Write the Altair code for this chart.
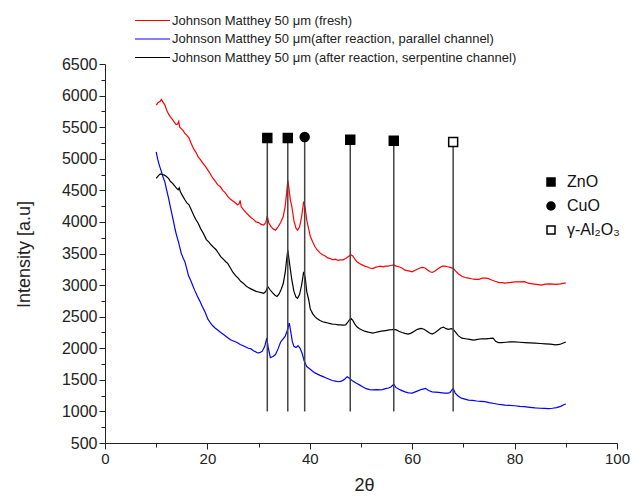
import altair as alt
import pandas as pd

# ---------------- data ----------------
fresh_x = [10.0,10.4,10.8,11.0,11.3,11.7,12.1,12.4,12.8,13.2,13.6,13.9,14.2,14.4,14.6,15.0,15.3,15.6,16.0,16.4,16.8,17.3,17.7,18.2,18.6,19.1,19.6,20.1,20.5,21.0,21.5,22.0,22.5,23.0,23.5,24.0,24.5,25.0,25.5,25.9,26.2,26.4,26.6,27.0,27.5,28.0,28.5,29.0,29.5,30.0,30.5,31.0,31.4,31.7,32.0,32.4,32.8,33.3,33.8,34.3,34.8,35.2,35.5,35.7,35.9,36.2,36.5,36.9,37.3,37.6,38.0,38.4,38.8,39.1,39.4,39.8,40.1,40.6,41.0,41.4,42.0,42.5,43.0,43.5,44.0,44.5,45.0,45.5,46.0,46.5,47.0,47.5,48.0,48.4,48.8,49.2,49.7,50.2,50.7,51.2,51.7,52.3,52.8,53.3,53.8,54.3,54.8,55.3,55.8,56.4,56.9,57.4,58.0,58.5,59.0,59.5,60.0,60.5,61.0,61.5,62.0,62.5,63.0,63.5,63.9,64.4,64.9,65.4,65.9,66.4,66.9,67.4,68.0,68.5,69.0,69.7,70.3,71.0,71.6,72.3,73.0,73.7,74.3,74.8,75.5,76.2,77.0,77.6,78.1,79.0,80.0,81.0,81.9,82.7,83.5,84.3,85.2,86.0,87.0,88.0,89.0,89.7,90.0]
fresh_y = [5850,5890,5910,5940,5900,5850,5760,5710,5660,5620,5570,5540,5550,5590,5500,5470,5440,5400,5370,5330,5250,5160,5110,5030,4990,4930,4880,4820,4770,4700,4650,4590,4560,4500,4460,4400,4360,4330,4300,4270,4290,4340,4240,4200,4150,4110,4070,4040,4000,3990,3960,3950,3990,4090,3980,3930,3890,3870,3920,3990,4080,4250,4480,4660,4550,4350,4240,4020,3900,3870,3920,4080,4320,4220,4030,3880,3770,3680,3610,3560,3510,3480,3460,3430,3420,3400,3410,3390,3400,3400,3420,3450,3480,3460,3410,3370,3340,3320,3300,3290,3270,3260,3280,3290,3300,3290,3300,3300,3310,3320,3300,3290,3270,3240,3230,3220,3210,3230,3250,3270,3280,3270,3240,3210,3200,3220,3250,3280,3300,3300,3290,3280,3265,3220,3180,3140,3120,3110,3100,3090,3090,3110,3110,3105,3080,3060,3040,3040,3030,3040,3050,3050,3055,3030,3020,3010,3000,3015,3020,3010,3020,3030,3030]

serp_x = [10.0,10.4,10.8,11.2,11.6,12.0,12.4,12.8,13.2,13.6,14.0,14.3,14.5,14.7,15.1,15.6,16.0,16.4,16.8,17.3,17.8,18.2,18.7,19.2,19.8,20.3,20.8,21.3,21.7,22.2,22.6,23.1,23.6,24.0,24.5,25.0,25.5,26.0,26.5,27.0,27.5,28.0,28.5,29.0,29.5,30.0,30.5,31.0,31.4,31.8,32.2,32.7,33.2,33.6,34.0,34.4,34.8,35.2,35.5,35.7,35.9,36.2,36.5,36.9,37.3,37.6,38.0,38.4,38.8,39.1,39.4,39.8,40.1,40.6,41.0,41.4,42.0,42.5,43.0,43.5,44.0,44.5,45.0,45.5,46.0,46.5,47.0,47.5,48.0,48.4,48.8,49.2,49.7,50.2,50.7,51.2,51.7,52.3,52.8,53.3,54.0,54.8,55.5,56.0,56.4,56.9,57.4,58.0,58.6,59.2,59.8,60.4,61.0,61.7,62.3,62.9,63.4,63.9,64.5,65.0,65.6,66.1,66.6,67.1,67.6,68.0,68.5,69.0,69.7,70.4,71.2,72.0,72.8,73.6,74.4,75.2,75.8,76.3,76.8,77.5,78.3,79.2,80.0,81.0,82.0,83.0,84.0,85.0,86.0,87.0,88.0,88.8,89.4,90.0]
serp_y = [4690,4730,4760,4750,4740,4720,4690,4640,4610,4570,4530,4510,4540,4480,4420,4350,4300,4270,4200,4110,4030,3980,3890,3820,3720,3680,3630,3590,3560,3500,3450,3410,3370,3340,3270,3200,3150,3110,3060,3030,2990,2960,2940,2920,2900,2890,2880,2870,2900,2975,2930,2880,2840,2820,2860,2930,3020,3200,3420,3555,3430,3250,3080,2900,2810,2790,2850,3000,3210,3120,2900,2760,2620,2540,2500,2470,2440,2420,2410,2400,2390,2380,2380,2370,2370,2365,2370,2420,2475,2440,2380,2340,2310,2290,2270,2260,2250,2240,2250,2260,2270,2280,2290,2295,2300,2290,2270,2250,2235,2225,2240,2270,2300,2315,2300,2270,2240,2225,2250,2280,2320,2335,2310,2300,2310,2300,2250,2200,2160,2150,2140,2130,2140,2150,2150,2155,2160,2110,2090,2090,2095,2100,2100,2095,2090,2085,2080,2075,2070,2065,2055,2060,2080,2100]

par_x = [10.0,10.3,10.6,11.0,11.3,11.7,12.0,12.4,12.7,13.0,13.4,13.7,14.0,14.3,14.6,14.9,15.3,15.6,16.0,16.3,16.7,17.0,17.5,18.0,18.5,19.0,19.5,20.1,20.6,21.0,21.5,22.0,22.6,23.1,23.6,24.1,24.6,25.2,25.8,26.4,27.0,27.5,28.0,28.5,29.0,29.5,29.8,30.2,30.7,31.2,31.6,31.9,32.3,32.8,33.3,33.8,34.3,34.8,35.2,35.6,36.0,36.3,36.6,36.9,37.3,37.7,38.1,38.5,38.9,39.4,39.9,40.5,41.0,41.5,42.0,42.6,43.2,43.8,44.4,45.0,45.6,46.2,46.8,47.3,47.8,48.4,49.1,49.7,50.3,51.0,51.7,52.4,53.0,53.6,54.2,54.8,55.4,55.9,56.4,56.8,57.4,58.0,58.6,59.3,60.0,60.6,61.2,61.9,62.6,63.2,63.9,64.5,65.2,65.8,66.4,67.0,67.4,68.0,68.4,69.0,69.6,70.3,71.0,71.8,72.6,73.4,74.2,75.0,76.0,77.0,78.1,79.0,80.0,81.0,81.9,83.0,84.0,85.0,85.8,86.6,87.4,88.2,89.0,89.7,90.0]
par_y = [5110,4990,4900,4800,4720,4630,4520,4380,4260,4150,4000,3880,3780,3700,3600,3500,3420,3370,3250,3150,3080,3020,2920,2830,2750,2660,2580,2460,2400,2360,2320,2290,2250,2220,2190,2160,2130,2110,2090,2060,2040,2020,2000,1990,1960,1940,1925,1930,1950,2030,2160,2000,1850,1870,1900,1990,2100,2150,2190,2280,2400,2250,2100,2030,2010,2040,2000,1920,1800,1710,1680,1640,1610,1590,1570,1550,1530,1510,1490,1480,1470,1480,1510,1550,1520,1480,1445,1420,1390,1360,1345,1340,1345,1340,1345,1360,1370,1390,1430,1380,1350,1330,1310,1295,1290,1310,1330,1350,1365,1330,1310,1305,1300,1295,1290,1290,1300,1365,1290,1240,1210,1195,1180,1175,1165,1160,1155,1140,1125,1110,1100,1095,1090,1080,1075,1065,1055,1050,1048,1045,1050,1060,1080,1110,1115]

series_names = [
    "Johnson Matthey 50 \u03bcm (fresh)",
    "Johnson Matthey 50 \u03bcm(after reaction, parallel channel)",
    "Johnson Matthey 50 \u03bcm (after reaction, serpentine channel)",
]
series_colors = ["#ff0000", "#0000ff", "#000000"]

peak_pos = [31.7, 35.7, 39.0, 47.9, 56.4, 68.0]
peak_phase = ["ZnO", "ZnO", "CuO", "ZnO", "ZnO", "\u03b3-Al\u2082O\u2083"]
peak_top = [5330, 5330, 5345, 5300, 5285, 5265]
peak_bottom = [1000, 1000, 1000, 1000, 1000, 1000]

phase_names = ["ZnO", "CuO", "\u03b3-Al\u2082O\u2083"]
phase_shapes = ["square", "circle", "square"]
phase_fills = ["black", "black", "white"]
phase_strokes = ["black", "black", "black"]

y_ticks = [500 + 250 * i for i in range(25)]
x_ticks = [10 * i for i in range(11)]

# ---------------- tables ----------------
rows = []
for name, xs, ys in [(series_names[0], fresh_x, fresh_y),
                     (series_names[1], par_x, par_y),
                     (series_names[2], serp_x, serp_y)]:
    for a, b in zip(xs, ys):
        rows.append({"x": a, "y": b, "series": name})
lines_df = pd.DataFrame(rows)

peaks_df = pd.DataFrame({"pos": peak_pos, "phase": peak_phase,
                         "top": peak_top, "bottom": peak_bottom})

FONT = "Liberation Sans"
xscale = alt.Scale(domain=[0, 100], nice=False, zero=False)
yscale = alt.Scale(domain=[500, 6500], nice=False, zero=False)

x_axis = alt.Axis(values=x_ticks, orient="bottom",
                  tickSize={"condition": {"test": "datum.value % 20 === 0", "value": 6}, "value": 4},
                  labelExpr="datum.value % 20 === 0 ? format(datum.value, 'd') : ''",
                  tickWidth=1, tickColor="#222", domainColor="#222", domainWidth=1,
                  labelFont=FONT, labelFontSize=15, labelColor="#222", labelPadding=2,
                  labelFlush=False, labelOverlap=False,
                  grid=False, title="2\u03b8", titleFont=FONT, titleFontSize=18,
                  titleFontWeight="normal", titleColor="#222",
                  titleX=259, titleY=42, titleBaseline="middle")
y_axis = alt.Axis(values=y_ticks, orient="left",
                  tickSize={"condition": {"test": "datum.value % 500 === 0", "value": 6}, "value": 4},
                  labelExpr="datum.value % 500 === 0 ? format(datum.value, 'd') : ''",
                  tickWidth=1, tickColor="#222", domainColor="#222", domainWidth=1,
                  labelFont=FONT, labelFontSize=16, labelColor="#222", labelPadding=2,
                  labelFlush=False, labelOverlap=False,
                  grid=False, title="Intensity [a.u]", titleFont=FONT, titleFontSize=18,
                  titleFontWeight="normal", titleColor="#222",
                  titleX=-81, titleY=190, titleBaseline="middle", titleAlign="center")

lines = alt.Chart(lines_df).mark_line(strokeWidth=1.2).encode(
    x=alt.X("x:Q", scale=xscale, axis=x_axis),
    y=alt.Y("y:Q", scale=yscale, axis=y_axis),
    color=alt.Color("series:N",
                    scale=alt.Scale(domain=series_names, range=series_colors),
                    legend=alt.Legend(orient="none", legendX=41, legendY=-50,
                                      title=None, symbolType="M-3.5,0H3.5",
                                      symbolSize=100, symbolStrokeWidth=1,
                                      labelFont=FONT, labelFontSize=13, labelColor="#222",
                                      labelOffset=13, labelLimit=600, rowPadding=4.5,
                                      padding=0)),
    order=alt.Order("x:Q"),
)

rules = alt.Chart(peaks_df).mark_rule(color="#444", strokeWidth=1.5).encode(
    x=alt.X("pos:Q", scale=xscale, axis=x_axis),
    y=alt.Y("bottom:Q", scale=yscale, axis=y_axis),
    y2="top:Q",
)

phase_legend = alt.Legend(orient="none", legendX=438, legendY=110, title=None,
                          symbolSize=64, symbolStrokeWidth=1.5, labelFont=FONT,
                          labelFontSize=16, labelColor="#111", labelOffset=8,
                          rowPadding=8, padding=0, labelLimit=300)

points = alt.Chart(peaks_df).mark_point(strokeWidth=1.5, opacity=1,
                                        fillOpacity=1, size=80).encode(
    x=alt.X("pos:Q", scale=xscale, axis=x_axis),
    y=alt.Y("top:Q", scale=yscale, axis=y_axis),
    shape=alt.Shape("phase:N", scale=alt.Scale(domain=phase_names, range=phase_shapes),
                    legend=phase_legend),
    fill=alt.Fill("phase:N", scale=alt.Scale(domain=phase_names, range=phase_fills),
                  legend=phase_legend),
    stroke=alt.Stroke("phase:N", scale=alt.Scale(domain=phase_names, range=phase_strokes),
                      legend=phase_legend),
)

chart = alt.layer(lines, rules, points).properties(
    width=512, height=379,
    autosize=alt.AutoSizeParams(type="none"),
    padding={"left": 97, "top": 56, "right": 14, "bottom": 52},
    background="white",
).configure_view(stroke=None)

chart.save("out.html", embed_options={"renderer": "svg", "actions": False})
